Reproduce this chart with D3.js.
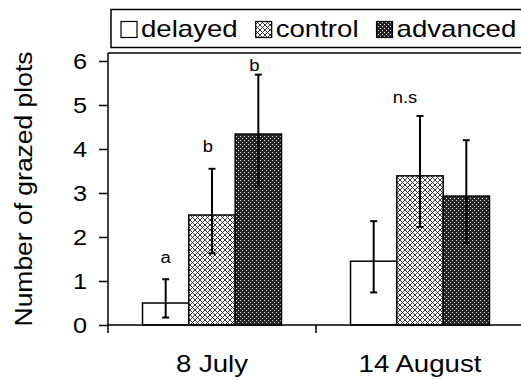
<!DOCTYPE html>
<html><head><meta charset="utf-8">
<script src="https://cdn.jsdelivr.net/npm/d3@7"></script>
<style>
body{margin:0;background:#fff}
svg{display:block}
text{font-family:"Liberation Sans",Arial,Helvetica,sans-serif;fill:#000}
</style>
</head><body>
<svg id="c" width="521" height="380"></svg>
<script>
// ---- data ----
const groups = ["8 July", "14 August"];
const series = ["delayed", "control", "advanced"];
const delayed = [0.50, 1.45];
const control = [2.50, 3.39];
const advanced = [4.34, 2.93];
const delayedUpper = [1.04, 2.36];
const delayedLower = [0.17, 0.74];
const controlUpper = [3.55, 4.75];
const controlLower = [1.63, 2.23];
const advancedUpper = [5.69, 4.20];
const advancedLower = [3.16, 1.87];
const yTicks = [0, 1, 2, 3, 4, 5, 6];
const yTitle = "Number of grazed plots";
const letterTexts = ["a", "b", "b", "n.s"];
const letterGroups = ["8 July", "8 July", "8 July", "14 August"];
const letterSeries = ["delayed", "control", "advanced", "control"];
const letterHeights = [1.40, 3.94, 5.77, 5.04];

(function () {
const values = {delayed, control, advanced};
const uppers = {delayed: delayedUpper, control: controlUpper, advanced: advancedUpper};
const lowers = {delayed: delayedLower, control: controlLower, advanced: advancedLower};
const rows = [];
groups.forEach((g, gi) => series.forEach(s => rows.push({g, s, v: values[s][gi], hi: uppers[s][gi], lo: lowers[s][gi]})));

// ---- layout ----
const svg = d3.select("#c");
const pL = 108, pR = 524, pT = 53, pB = 325;
const x0 = d3.scaleBand().domain(groups).range([pL, pR]).padding(0);
const x1 = d3.scaleBand().domain(series).range([0, x0.bandwidth()]).paddingInner(0).paddingOuter(0.745);
const y = d3.scaleLinear().domain([0, 6]).range([pB, 61]);

// patterns
const defs = svg.append("defs");
const ph = defs.append("pattern").attr("id", "hatch").attr("patternUnits", "userSpaceOnUse")
  .attr("width", 5).attr("height", 5);
ph.append("rect").attr("width", 5).attr("height", 5).attr("fill", "#fff");
ph.append("path").attr("d", "M0,0L5,5M5,0L0,5M-1,4L1,6M4,-1L6,1M-1,1L1,-1M4,6L6,4")
  .attr("stroke", "#222").attr("stroke-width", 0.9).attr("fill", "none");
const pd = defs.append("pattern").attr("id", "dark").attr("patternUnits", "userSpaceOnUse")
  .attr("width", 4).attr("height", 4);
pd.append("rect").attr("width", 4).attr("height", 4).attr("fill", "#262626");
pd.append("rect").attr("x", 0).attr("y", 0).attr("width", 1).attr("height", 1).attr("fill", "#ddd");
pd.append("rect").attr("x", 2).attr("y", 2).attr("width", 1).attr("height", 1).attr("fill", "#ddd");
const fills = {delayed: "#fff", control: "url(#hatch)", advanced: "url(#dark)"};

// bars
svg.append("g").selectAll("rect").data(rows).join("rect")
  .attr("x", d => x0(d.g) + x1(d.s))
  .attr("y", d => y(d.v))
  .attr("width", x1.bandwidth())
  .attr("height", d => y(0) - y(d.v))
  .attr("fill", d => fills[d.s])
  .attr("stroke", "#000").attr("stroke-width", 1.5);

// error bars
const eb = svg.append("g").attr("stroke", "#000").attr("stroke-width", 2).attr("fill", "none");
rows.forEach(d => {
  const cx = x0(d.g) + x1(d.s) + x1.bandwidth() / 2;
  eb.append("line").attr("x1", cx).attr("x2", cx).attr("y1", y(d.hi)).attr("y2", y(d.lo));
  eb.append("line").attr("x1", cx - 3.5).attr("x2", cx + 3.5).attr("y1", y(d.hi)).attr("y2", y(d.hi));
  eb.append("line").attr("x1", cx - 3.5).attr("x2", cx + 3.5).attr("y1", y(d.lo)).attr("y2", y(d.lo));
});

// frame & axes
const ax = svg.append("g").attr("stroke", "#000").attr("stroke-width", 1.5).attr("fill", "none");
ax.append("line").attr("x1", pL).attr("x2", pR).attr("y1", pT).attr("y2", pT);
ax.append("line").attr("x1", pL).attr("x2", pL).attr("y1", pT).attr("y2", pB);
ax.append("line").attr("x1", pL).attr("x2", pR).attr("y1", pB).attr("y2", pB);
const bounds = groups.map(g => x0(g)).concat([x0(groups[groups.length - 1]) + x0.bandwidth()]);
bounds.forEach(b => ax.append("line").attr("x1", b).attr("x2", b).attr("y1", pB).attr("y2", pB + 8));

const yAxis = d3.axisLeft(y).tickValues(yTicks).tickFormat(d3.format("d")).tickSize(9).tickSizeOuter(0).tickPadding(12);
const ya = svg.append("g").attr("transform", `translate(${pL},0)`).call(yAxis);
ya.select(".domain").remove();
ya.selectAll(".tick line").attr("stroke", "#000").attr("stroke-width", 1.5);
ya.selectAll(".tick text").attr("font-size", 22).attr("font-family", null).attr("fill", "#000")
  .attr("dy", "0.36em").classed("st", true);

// x labels
svg.append("g").selectAll("text").data(groups).join("text")
  .attr("class", "st")
  .attr("x", d => x0(d) + x0.bandwidth() / 2)
  .attr("y", 372)
  .attr("text-anchor", "middle").attr("font-size", 24)
  .text(d => d);

// y title
svg.append("text").attr("class", "st")
  .attr("transform", "translate(31.5,189) rotate(-90)")
  .attr("text-anchor", "middle").attr("font-size", 23)
  .text(yTitle);

// significance letters
letterTexts.forEach((t, i) => {
  const cx = x0(letterGroups[i]) + x1(letterSeries[i]) + x1.bandwidth() / 2;
  svg.append("text").attr("class", "st")
    .attr("x", t === "n.s" ? cx - 15 : cx - (letterSeries[i] === "delayed" ? 0 : 4))
    .attr("y", y(letterHeights[i]))
    .attr("text-anchor", "middle").attr("font-size", 16)
    .text(t);
});

// legend
const lg = svg.append("g");
lg.append("rect").attr("x", 111).attr("y", 9.5).attr("width", 430).attr("height", 38)
  .attr("fill", "#fff").attr("stroke", "#000").attr("stroke-width", 1.5);
let lx = 121;
series.forEach(s => {
  lg.append("rect").attr("x", lx).attr("y", 21.5).attr("width", 16).attr("height", 16)
    .attr("fill", fills[s]).attr("stroke", "#000").attr("stroke-width", 1.2);
  const t = lg.append("text").attr("x", lx + 20).attr("y", 37.3).attr("font-size", 24).text(s);
  const w = t.node().getComputedTextLength() * 1.15;
  t.attr("textLength", w).attr("lengthAdjust", "spacingAndGlyphs");
  lx += 20 + w + 18;
});

// horizontal stretch for text to mimic the wide typeface
svg.selectAll("text.st").each(function () {
  const w = this.getComputedTextLength();
  d3.select(this).attr("textLength", w * 1.15).attr("lengthAdjust", "spacingAndGlyphs");
});
})();
</script>
</body></html>
